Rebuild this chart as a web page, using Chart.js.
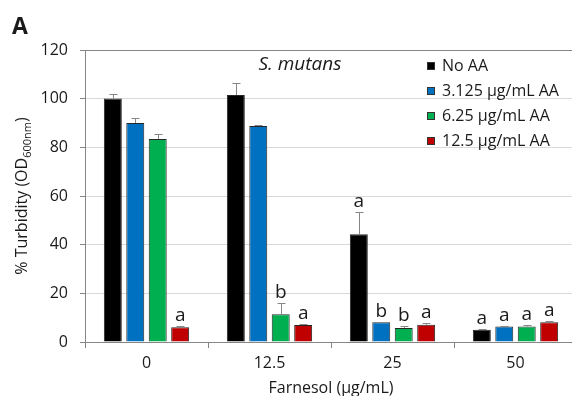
<!DOCTYPE html>
<html lang="en">
<head>
    <meta charset="UTF-8">
    <title>S. mutans turbidity</title>
    <script src="https://cdn.jsdelivr.net/npm/chart.js@4.4.1/dist/chart.umd.min.js"></script>
    <style>
        body { margin: 0; overflow: hidden; background: #fff; }
        .box { width: 578px; height: 396px; }
    </style>
</head>
<body>
    <div class="box"><canvas id="turbidez"></canvas></div>

<script>
// categorias (farnesol, ug/mL) e series
const categorias = ['0', '12.5', '25', '50'];
const seriesNomes = ['No AA', '3.125 \u00b5g/mL AA', '6.25 \u00b5g/mL AA', '12.5 \u00b5g/mL AA'];
const seriesCores = ['#000000', '#0070c0', '#00b050', '#c00000'];

const noAA = [100.1, 101.5, 44.3, 5.0];
const aa3125 = [90.0, 88.8, 8.1, 6.4];
const aa625 = [83.4, 11.4, 5.8, 6.4];
const aa125 = [6.1, 7.0, 7.1, 8.1];

// desvio (so para cima)
const errNoAA = [1.7, 4.9, 9.3, 0.3];
const errAA3125 = [2.0, 0.3, 0.2, 0.3];
const errAA625 = [2.1, 4.6, 0.8, 0.6];
const errAA125 = [0.3, 0.3, 0.7, 0.4];

// letras de significancia
const letrasNoAA = ['', '', 'a', 'a'];
const letrasAA3125 = ['', '', 'b', 'a'];
const letrasAA625 = ['', 'b', 'b', 'a'];
const letrasAA125 = ['a', 'a', 'a', 'a'];

const yTicks = [0, 20, 40, 60, 80, 100, 120];

const valores = [noAA, aa3125, aa625, aa125];
const erros = [errNoAA, errAA3125, errAA625, errAA125];
const letras = [letrasNoAA, letrasAA3125, letrasAA625, letrasAA125];

const FONTE = '"Open Sans", sans-serif';
const CINZA = '#868686';

// desenha barras de erro, letras, legenda e titulos
const extras = {
    id: 'extras',
    afterDatasetsDraw(chart) {
        const ctx = chart.ctx;
        const y = chart.scales.y;
        chart.data.datasets.forEach((ds, i) => {
            chart.getDatasetMeta(i).data.forEach((bar, j) => {
                const topo = Math.round(y.getPixelForValue(ds.data[j] + erros[i][j])) + 0.5;
                const x = Math.round(bar.x) + 0.5;
                ctx.save();
                ctx.strokeStyle = CINZA;
                ctx.lineWidth = 1;
                ctx.beginPath();
                ctx.moveTo(x, bar.y);
                ctx.lineTo(x, topo);
                ctx.moveTo(x - 4, topo);
                ctx.lineTo(x + 4, topo);
                ctx.stroke();
                if (letras[i][j]) {
                    ctx.fillStyle = '#1a1a1a';
                    ctx.font = '19px ' + FONTE;
                    ctx.textAlign = 'center';
                    ctx.textBaseline = 'alphabetic';
                    ctx.fillText(letras[i][j], bar.x, topo - 6);
                }
                ctx.restore();
            });
        });
    },
    afterDraw(chart) {
        const ctx = chart.ctx;
        const area = chart.chartArea;
        ctx.save();
        ctx.fillStyle = '#1a1a1a';

        // letra do painel
        ctx.font = 'bold 23px ' + FONTE;
        ctx.textAlign = 'left';
        ctx.textBaseline = 'alphabetic';
        ctx.fillText('A', 12, 34);

        // titulo do organismo
        ctx.font = 'italic 19px ' + FONTE;
        ctx.textAlign = 'center';
        ctx.fillText('S. mutans', 300, 70);

        // legenda
        ctx.textAlign = 'left';
        ctx.textBaseline = 'middle';
        ctx.font = '16px ' + FONTE;
        seriesNomes.forEach((nome, i) => {
            const yy = 66 + i * 25;
            ctx.fillStyle = seriesCores[i];
            ctx.fillRect(427, yy - 4, 8, 8);
            ctx.strokeStyle = '#333';
            ctx.lineWidth = 1;
            ctx.strokeRect(427.5, yy - 3.5, 7, 7);
            ctx.fillStyle = '#1a1a1a';
            ctx.fillText(nome, 442, yy);
        });

        // titulo eixo x
        ctx.textAlign = 'center';
        ctx.font = '16px ' + FONTE;
        ctx.fillText('Farnesol (\u00b5g/mL)', (area.left + area.right) / 2, 388);

        // titulo eixo y com subscrito
        const cy = (area.top + area.bottom) / 2;
        ctx.translate(27, cy);
        ctx.rotate(-Math.PI / 2);
        ctx.textBaseline = 'alphabetic';
        ctx.textAlign = 'left';
        const p1 = '% Turbidity (OD', p2 = '600nm', p3 = ')';
        ctx.font = '16px ' + FONTE;
        const w1 = ctx.measureText(p1).width, w3 = ctx.measureText(p3).width;
        ctx.font = '11px ' + FONTE;
        const w2 = ctx.measureText(p2).width;
        let x0 = -(w1 + w2 + w3) / 2;
        ctx.font = '16px ' + FONTE;
        ctx.fillText(p1, x0, 0);
        ctx.font = '11px ' + FONTE;
        ctx.fillText(p2, x0 + w1, 4);
        ctx.font = '16px ' + FONTE;
        ctx.fillText(p3, x0 + w1 + w2, 0);
        ctx.restore();
    }
};

const dados = {
    labels: categorias,
    datasets: valores.map((v, i) => ({
        label: seriesNomes[i],
        data: v,
        backgroundColor: seriesCores[i],
        borderColor: '#262626',
        borderWidth: 1,
        borderSkipped: 'bottom',
        categoryPercentage: 0.73,
        barPercentage: 0.8
    }))
};

const config = {
    type: 'bar',
    data: dados,
    options: {
        responsive: true,
        maintainAspectRatio: false,
        animation: false,
        layout: { padding: { top: 50, right: 1, left: 0, bottom: 0 } },
        plugins: {
            legend: { display: false },
            tooltip: { enabled: false }
        },
        scales: {
            x: {
                grid: { offset: true, drawOnChartArea: false, tickLength: 6, color: CINZA },
                border: { color: CINZA },
                ticks: { color: '#1a1a1a', padding: 6, font: { family: FONTE, size: 16 } },
                afterFit(scale) { scale.height = 54; }
            },
            y: {
                min: 0,
                max: 120,
                afterBuildTicks(scale) { scale.ticks = yTicks.map(v => ({ value: v })); },
                grid: {
                    tickLength: 5,
                    tickColor: CINZA,
                    color: c => (c.tick && c.tick.value === 120) ? CINZA : '#d9d9d9'
                },
                border: { color: CINZA },
                ticks: { color: '#1a1a1a', padding: 12, font: { family: FONTE, size: 16 } },
                afterFit(scale) { scale.width = 85; }
            }
        }
    },
    plugins: [extras]
};

let grafico = new Chart(document.getElementById('turbidez'), config);
</script>
</body>
</html>
